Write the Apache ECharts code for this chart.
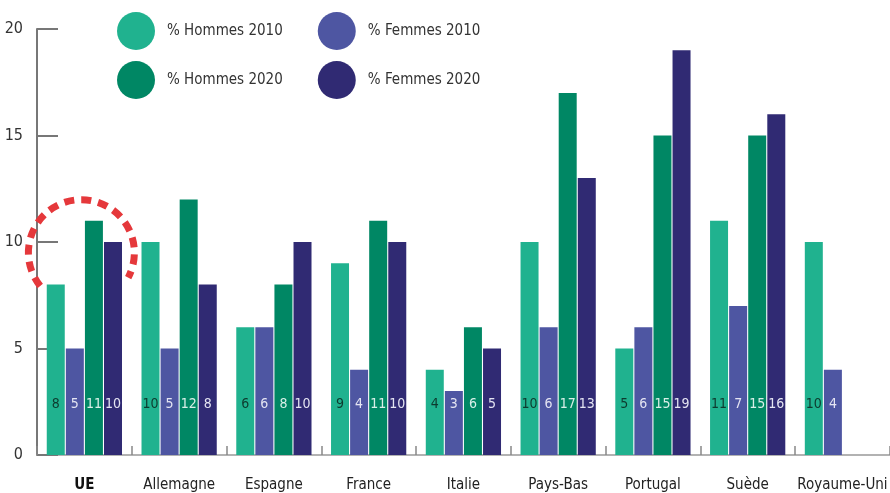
<!DOCTYPE html>
<html lang="fr">
<head>
  <meta charset="UTF-8">
  <title>Hommes / Femmes 2010-2020</title>
  <style>
    html, body { margin: 0; padding: 0; background: #fff; }
    #chart { width: 890px; height: 493px; }
  </style>
  <script src="https://cdn.jsdelivr.net/npm/echarts@6/dist/echarts.min.js"></script>
</head>
<body>
  <div id="chart"></div>
<script>
  // données
  var pays = ['UE', 'Allemagne', 'Espagne', 'France', 'Italie', 'Pays-Bas', 'Portugal', 'Suède', 'Royaume-Uni'];
  var hommes2010 = [8, 10, 6, 9, 4, 10, 5, 11, 10];
  var femmes2010 = [5, 5, 6, 4, 3, 6, 6, 7, 4];
  var hommes2020 = [11, 12, 8, 11, 6, 17, 15, 15, null];
  var femmes2020 = [10, 8, 10, 10, 5, 13, 19, 16, null];

  var police = '"DejaVu Sans Condensed", "Liberation Sans Narrow", sans-serif';
  var couleurs = ['#20b28f', '#4e56a2', '#008764', '#302a73'];

  function serie(nom, data, couleur, couleurTexte) {
    return {
      name: nom,
      type: 'bar',
      data: data,
      barWidth: 18,
      barGap: '6%',
      itemStyle: { color: couleur },
      label: {
        show: true,
        position: 'insideBottom',
        distance: 44,
        fontFamily: police,
        fontSize: 14,
        color: couleurTexte
      }
    };
  }

  function legende(noms, haut) {
    return {
      data: noms,
      left: 117, top: haut, padding: 0,
      icon: 'circle', itemWidth: 38, itemHeight: 38, itemGap: 35,
      textStyle: { fontFamily: police, fontSize: 15, color: '#333', padding: [0, 0, 0, 7], width: 100 }
    };
  }

  var myChart = echarts.init(document.getElementById('chart'));
  var option = {
    animation: false,
    textStyle: { fontFamily: police },
    legend: [
      legende(['% Hommes 2010', '% Femmes 2010'], 12),
      legende(['% Hommes 2020', '% Femmes 2020'], 61)
    ],
    grid: { left: 37, right: -10, top: 29, bottom: 38 },
    xAxis: {
      type: 'category',
      data: pays,
      axisLine: { lineStyle: { color: '#999', width: 1.5 } },
      axisTick: { show: true, interval: 0, inside: true, length: 9, lineStyle: { color: '#888', width: 1.5 } },
      axisLabel: {
        interval: 0,
        margin: 23,
        fontSize: 15,
        color: '#222',
        formatter: function (v) { return v === 'UE' ? '{b|' + v + '}' : v; },
        rich: { b: { fontWeight: 'bold', fontSize: 15, color: '#111', fontFamily: police } }
      }
    },
    yAxis: {
      type: 'value',
      min: 0, max: 20, interval: 5,
      axisLine: { show: true, lineStyle: { color: '#777', width: 2 } },
      axisTick: { show: true, inside: true, length: 21, lineStyle: { color: '#777', width: 2 } },
      splitLine: { show: false },
      axisLabel: { margin: 14, fontSize: 16, color: '#333' }
    },
    series: [
      serie('% Hommes 2010', hommes2010, couleurs[0], '#0d3a2e'),
      serie('% Femmes 2010', femmes2010, couleurs[1], '#e4e4f2'),
      serie('% Hommes 2020', hommes2020, couleurs[2], '#d8efe8'),
      serie('% Femmes 2020', femmes2020, couleurs[3], '#e4e4f2')
    ]
  };
  myChart.setOption(option);

  // cercle rouge en pointillés autour de l'UE
  var centre = myChart.convertToPixel({ xAxisIndex: 0, yAxisIndex: 0 }, ['UE', 9.5]);
  myChart.setOption({
    graphic: [{
      type: 'arc',
      z: 100,
      shape: {
        cx: centre[0] - 3, cy: centre[1], r: 53,
        startAngle: 141 * Math.PI / 180,
        endAngle: 388 * Math.PI / 180,
        clockwise: true
      },
      style: { fill: null, stroke: '#e5383b', lineWidth: 7, lineDash: [10, 7] }
    }]
  });
</script>
</body>
</html>
